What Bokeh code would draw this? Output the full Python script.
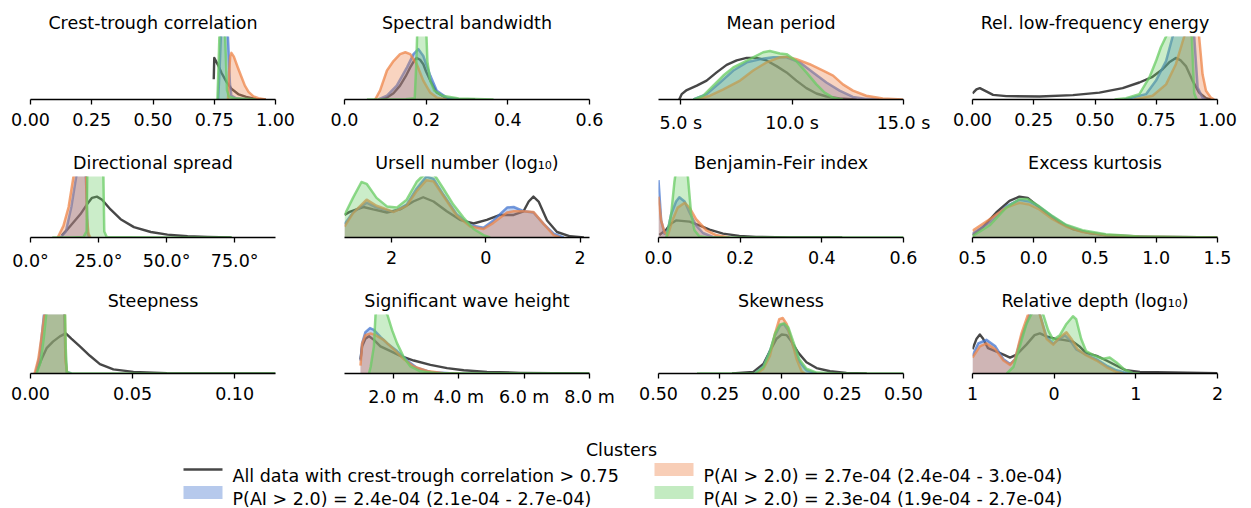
from bokeh.plotting import figure
from bokeh.layouts import column, row
from bokeh.models import Range1d, FixedTicker
from bokeh.core.properties import value
from bokeh.embed import file_html
from bokeh.resources import INLINE

# ---------------- data (x in data units, y = density scaled to panel height) ----------------
titles = ["Crest-trough correlation", "Spectral bandwidth", "Mean period", "Rel. low-frequency energy",
          "Directional spread", "Ursell number (log\u2081\u2080)", "Benjamin-Feir index", "Excess kurtosis",
          "Steepness", "Significant wave height", "Skewness", "Relative depth (log\u2081\u2080)"]

x_ranges = [(0.0, 1.0), (0.0, 0.6), (4.0, 15.0), (0.0, 1.0),
            (0.0, 90.0), (-3.0, 2.2), (0.0, 0.6), (-0.5, 1.5),
            (0.0, 0.12), (0.5, 8.0), (-0.5, 0.5), (-1.0, 2.0)]

tick_values = [[0.0, 0.25, 0.5, 0.75, 1.0], [0.0, 0.2, 0.4, 0.6], [5.0, 10.0, 15.0], [0.0, 0.25, 0.5, 0.75, 1.0],
               [0.0, 25.0, 50.0, 75.0], [-2.0, 0.0, 2.0], [0.0, 0.2, 0.4, 0.6], [-0.5, 0.0, 0.5, 1.0, 1.5],
               [0.0, 0.05, 0.1], [2.0, 4.0, 6.0, 8.0], [-0.5, -0.25, 0.0, 0.25, 0.5], [-1.0, 0.0, 1.0, 2.0]]
tick_labels = [["0.00", "0.25", "0.50", "0.75", "1.00"], ["0.0", "0.2", "0.4", "0.6"],
               ["5.0 s", "10.0 s", "15.0 s"], ["0.00", "0.25", "0.50", "0.75", "1.00"],
               ["0.0\u00b0", "25.0\u00b0", "50.0\u00b0", "75.0\u00b0"], ["2", "0", "2"],
               ["0.0", "0.2", "0.4", "0.6"], ["0.5", "0.0", "0.5", "1.0", "1.5"],
               ["0.00", "0.05", "0.10"], ["2.0 m", "4.0 m", "6.0 m", "8.0 m"],
               ["0.50", "0.25", "0.00", "0.25", "0.50"], ["1", "0", "1", "2"]]

# Crest-trough correlation
ct_all_x = [0.748, 0.750, 0.765, 0.78, 0.80, 0.82, 0.85, 0.88, 0.92, 0.96]
ct_all_y = [0.32, 0.66, 0.55, 0.42, 0.28, 0.17, 0.08, 0.04, 0.01, 0.0]
ct_b_x = [0.766, 0.772, 0.780, 0.790, 0.800, 0.808, 0.814, 0.820, 0.84, 0.88]
ct_b_y = [0.0, 0.5, 1.3, 1.7, 1.5, 0.8, 0.25, 0.06, 0.02, 0.0]
ct_o_x = [0.806, 0.810, 0.815, 0.820, 0.83, 0.845, 0.86, 0.875, 0.89, 0.91, 0.93, 0.96]
ct_o_y = [0.0, 0.4, 0.68, 0.74, 0.68, 0.52, 0.37, 0.22, 0.12, 0.05, 0.02, 0.0]
ct_g_x = [0.763, 0.768, 0.774, 0.782, 0.790, 0.797, 0.802, 0.81, 0.83, 0.87, 0.92]
ct_g_y = [0.0, 0.6, 1.4, 1.8, 1.5, 0.7, 0.15, 0.05, 0.02, 0.01, 0.0]

# Spectral bandwidth
sb_all_x = [0.09, 0.104, 0.12, 0.136, 0.15, 0.161, 0.170, 0.177, 0.185, 0.193, 0.20, 0.21, 0.226, 0.25, 0.28, 0.32]
sb_all_y = [0.0, 0.03, 0.10, 0.22, 0.37, 0.51, 0.61, 0.66, 0.63, 0.56, 0.44, 0.30, 0.11, 0.02, 0.005, 0.0]
sb_b_x = [0.083, 0.104, 0.128, 0.153, 0.169, 0.181, 0.193, 0.21, 0.226, 0.25, 0.283]
sb_b_y = [0.0, 0.06, 0.22, 0.51, 0.72, 0.80, 0.69, 0.38, 0.14, 0.03, 0.0]
sb_o_x = [0.075, 0.087, 0.104, 0.12, 0.136, 0.149, 0.161, 0.177, 0.193, 0.21, 0.226, 0.25]
sb_o_y = [0.0, 0.14, 0.46, 0.61, 0.72, 0.75, 0.72, 0.56, 0.30, 0.11, 0.03, 0.0]
sb_g_x = [0.055, 0.15, 0.172, 0.176, 0.180, 0.19, 0.198, 0.203, 0.21, 0.22, 0.24, 0.28, 0.365]
sb_g_y = [0.0, 0.005, 0.02, 0.6, 1.5, 2.0, 1.5, 0.6, 0.3, 0.14, 0.06, 0.016, 0.0]

# Mean period
mp_all_x = [4.93, 5.04, 5.27, 5.72, 6.16, 6.61, 7.06, 7.51, 7.96, 8.40, 8.85, 9.30, 9.75, 10.19, 10.64, 11.09, 11.54, 12.13, 12.9]
mp_all_y = [0.0, 0.085, 0.15, 0.22, 0.30, 0.43, 0.55, 0.62, 0.66, 0.66, 0.62, 0.53, 0.43, 0.30, 0.18, 0.095, 0.048, 0.016, 0.0]
mp_b_x = [5.57, 6.16, 6.76, 7.36, 7.96, 8.55, 9.15, 9.75, 10.34, 10.94, 11.54, 12.13, 12.73, 13.33, 13.9]
mp_b_y = [0.0, 0.085, 0.27, 0.46, 0.59, 0.64, 0.67, 0.67, 0.59, 0.43, 0.27, 0.14, 0.04, 0.01, 0.0]
mp_o_x = [5.72, 6.31, 6.91, 7.66, 8.25, 8.85, 9.45, 9.75, 10.19, 10.79, 11.39, 11.84, 12.28, 12.73, 13.33, 14.07, 14.97]
mp_o_y = [0.0, 0.06, 0.16, 0.30, 0.46, 0.59, 0.67, 0.68, 0.64, 0.56, 0.46, 0.38, 0.24, 0.14, 0.06, 0.016, 0.0]
mp_g_x = [5.57, 6.01, 6.46, 6.91, 7.36, 7.81, 8.25, 8.70, 9.00, 9.45, 9.75, 10.19, 10.64, 11.09, 11.46, 11.84, 12.28]
mp_g_y = [0.0, 0.06, 0.22, 0.38, 0.51, 0.59, 0.67, 0.75, 0.77, 0.73, 0.72, 0.61, 0.43, 0.24, 0.11, 0.03, 0.0]

# Rel. low-frequency energy
lf_all_x = [0.0, 0.016, 0.03, 0.05, 0.084, 0.138, 0.274, 0.41, 0.518, 0.613, 0.681, 0.735, 0.776, 0.803, 0.83, 0.85, 0.871, 0.898, 0.925, 0.953, 0.973]
lf_all_y = [0.095, 0.16, 0.18, 0.14, 0.074, 0.053, 0.048, 0.069, 0.11, 0.18, 0.27, 0.36, 0.48, 0.59, 0.66, 0.62, 0.53, 0.30, 0.11, 0.02, 0.0]
lf_b_x = [0.62, 0.708, 0.749, 0.79, 0.817, 0.86, 0.905, 0.919, 0.939, 0.953]
lf_b_y = [0.0, 0.085, 0.30, 0.61, 1.0, 1.6, 1.0, 0.19, 0.03, 0.0]
lf_o_x = [0.66, 0.735, 0.79, 0.83, 0.864, 0.895, 0.925, 0.939, 0.953, 0.973, 0.986]
lf_o_y = [0.0, 0.06, 0.24, 0.56, 1.0, 1.5, 1.0, 0.40, 0.14, 0.03, 0.0]
lf_g_x = [0.58, 0.627, 0.681, 0.722, 0.749, 0.769, 0.79, 0.84, 0.895, 0.905, 0.915]
lf_g_y = [0.0, 0.02, 0.085, 0.35, 0.61, 0.83, 1.0, 1.6, 1.0, 0.1, 0.0]

# Directional spread
ds_all_x = [11.5, 13.3, 15.8, 18.3, 20.7, 22.6, 24.4, 26.3, 29.4, 33.1, 38.0, 44.2, 50.3, 57.7, 65.1, 73.8]
ds_all_y = [0.037, 0.12, 0.25, 0.38, 0.54, 0.65, 0.67, 0.62, 0.46, 0.30, 0.17, 0.09, 0.048, 0.02, 0.01, 0.0]
ds_b_x = [11.0, 13.0, 15.0, 16.8, 18.0, 19.5, 20.5, 21.0, 21.5]
ds_b_y = [0.0, 0.1, 0.5, 1.0, 2.2, 2.0, 0.8, 0.1, 0.0]
ds_o_x = [10.0, 12.1, 14.0, 15.8, 17.5, 19.0, 20.3, 20.8, 21.3, 22.0]
ds_o_y = [0.0, 0.19, 0.5, 1.0, 1.9, 2.0, 1.3, 0.3, 0.06, 0.0]
ds_g_x = [8.0, 15.0, 19.5, 20.6, 21.0, 22.0, 24.0, 26.0, 26.6, 27.1, 28.0, 35.0, 50.0, 74.0]
ds_g_y = [0.0, 0.002, 0.01, 0.1, 1.5, 2.2, 2.4, 2.2, 1.5, 0.1, 0.01, 0.004, 0.002, 0.0]

# Ursell number (log10)
ur_all_x = [-3.0, -2.89, -2.6, -2.39, -2.1, -1.82, -1.54, -1.33, -1.11, -0.83, -0.55, -0.26, 0.02, 0.30, 0.59, 0.80, 0.91, 1.01, 1.12, 1.30, 1.51, 1.79, 2.08]
ur_all_y = [0.37, 0.42, 0.50, 0.46, 0.41, 0.46, 0.59, 0.66, 0.59, 0.43, 0.29, 0.23, 0.29, 0.37, 0.37, 0.43, 0.59, 0.67, 0.59, 0.28, 0.09, 0.02, 0.0]
ur_b_x = [-3.0, -2.82, -2.53, -2.32, -1.96, -1.68, -1.47, -1.26, -1.11, -0.9, -0.62, -0.33, -0.05, 0.16, 0.45, 0.59, 0.80, 1.01, 1.23, 1.44, 1.65]
ur_b_y = [0.22, 0.41, 0.57, 0.49, 0.42, 0.54, 0.80, 1.0, 0.96, 0.70, 0.38, 0.20, 0.16, 0.28, 0.49, 0.50, 0.43, 0.41, 0.22, 0.063, 0.0]
ur_o_x = [-3.0, -2.82, -2.53, -2.32, -1.96, -1.68, -1.47, -1.26, -1.11, -0.9, -0.62, -0.33, -0.05, 0.16, 0.45, 0.59, 0.80, 1.01, 1.23, 1.44, 1.58]
ur_o_y = [0.18, 0.40, 0.62, 0.52, 0.42, 0.52, 0.76, 0.94, 0.92, 0.68, 0.36, 0.18, 0.14, 0.24, 0.41, 0.43, 0.43, 0.42, 0.22, 0.04, 0.0]
ur_g_x = [-3.0, -2.82, -2.64, -2.53, -2.32, -2.1, -1.89, -1.68, -1.47, -1.33, -1.11, -0.9, -0.69, -0.48, -0.26, -0.05, 0.09]
ur_g_y = [0.37, 0.65, 0.91, 0.88, 0.65, 0.51, 0.49, 0.62, 0.91, 1.02, 1.05, 0.80, 0.54, 0.33, 0.14, 0.04, 0.0]

# Benjamin-Feir index
bf_all_x = [0.002, 0.019, 0.031, 0.043, 0.076, 0.10, 0.125, 0.158, 0.198, 0.239, 0.32, 0.45]
bf_all_y = [0.04, 0.13, 0.23, 0.28, 0.26, 0.20, 0.13, 0.063, 0.026, 0.01, 0.002, 0.0]
bf_b_x = [0.0, 0.0065, 0.0147, 0.023, 0.031, 0.043, 0.051, 0.064, 0.076, 0.092, 0.109, 0.133, 0.158]
bf_b_y = [0.94, 0.28, 0.06, 0.12, 0.38, 0.59, 0.66, 0.59, 0.41, 0.20, 0.074, 0.01, 0.0]
bf_o_x = [0.0, 0.0065, 0.0147, 0.023, 0.035, 0.047, 0.064, 0.076, 0.092, 0.117, 0.141, 0.174]
bf_o_y = [0.67, 0.28, 0.09, 0.04, 0.30, 0.49, 0.57, 0.49, 0.30, 0.12, 0.04, 0.0]
bf_g_x = [0.019, 0.031, 0.039, 0.047, 0.057, 0.068, 0.08, 0.088, 0.10, 0.117, 0.3, 0.6]
bf_g_y = [0.0, 0.38, 0.91, 1.3, 1.5, 1.3, 0.38, 0.12, 0.02, 0.003, 0.001, 0.0]

# Excess kurtosis
ek_all_x = [-0.5, -0.415, -0.306, -0.198, -0.117, -0.049, 0.019, 0.10, 0.209, 0.317, 0.453, 0.588, 0.778, 0.995, 1.5]
ek_all_y = [0.04, 0.17, 0.41, 0.60, 0.67, 0.65, 0.54, 0.41, 0.25, 0.14, 0.074, 0.037, 0.016, 0.005, 0.0]
ek_b_x = [-0.5, -0.36, -0.225, -0.117, -0.035, 0.046, 0.154, 0.263, 0.398, 0.588, 0.859, 1.5]
ek_b_y = [0.063, 0.25, 0.51, 0.62, 0.59, 0.50, 0.34, 0.20, 0.10, 0.042, 0.016, 0.0]
ek_o_x = [-0.5, -0.36, -0.225, -0.117, -0.035, 0.046, 0.154, 0.263, 0.398, 0.588, 0.859, 1.5]
ek_o_y = [0.11, 0.30, 0.49, 0.57, 0.54, 0.46, 0.30, 0.18, 0.09, 0.042, 0.016, 0.0]
ek_g_x = [-0.5, -0.36, -0.225, -0.117, -0.049, 0.046, 0.154, 0.263, 0.398, 0.588, 0.859, 1.5]
ek_g_y = [0.02, 0.20, 0.49, 0.63, 0.63, 0.51, 0.35, 0.21, 0.12, 0.053, 0.016, 0.0]

# Steepness
st_all_x = [0.003, 0.0054, 0.0079, 0.011, 0.0144, 0.0173, 0.020, 0.0242, 0.0291, 0.034, 0.0406, 0.0504, 0.0668, 0.12]
st_all_y = [0.03, 0.24, 0.43, 0.54, 0.63, 0.68, 0.59, 0.46, 0.30, 0.16, 0.07, 0.027, 0.005, 0.0]
st_b_x = [0.0025, 0.0045, 0.006, 0.0075, 0.010, 0.013, 0.016, 0.0171, 0.0178, 0.02]
st_b_y = [0.0, 0.3, 0.8, 1.3, 1.9, 2.1, 1.7, 0.3, 0.02, 0.0]
st_o_x = [0.002, 0.0038, 0.0054, 0.007, 0.010, 0.014, 0.0165, 0.0172, 0.018]
st_o_y = [0.0, 0.24, 0.62, 1.05, 1.8, 2.0, 1.6, 0.2, 0.0]
st_g_x = [0.003, 0.005, 0.0065, 0.008, 0.011, 0.014, 0.0165, 0.0173, 0.0178, 0.02, 0.06, 0.12]
st_g_y = [0.0, 0.2, 0.6, 1.1, 2.0, 2.2, 1.8, 0.4, 0.02, 0.005, 0.002, 0.0]

# Significant wave height
hs_all_x = [0.99, 1.04, 1.14, 1.25, 1.40, 1.60, 1.91, 2.21, 2.62, 3.13, 3.64, 4.15, 4.86, 5.88, 6.90, 8.0]
hs_all_y = [0.24, 0.46, 0.59, 0.63, 0.57, 0.46, 0.38, 0.30, 0.22, 0.146, 0.092, 0.054, 0.027, 0.011, 0.005, 0.0]
hs_b_x = [0.99, 1.04, 1.14, 1.28, 1.40, 1.60, 1.81, 2.11, 2.42, 2.72, 3.13, 3.84]
hs_b_y = [0.22, 0.51, 0.70, 0.77, 0.74, 0.62, 0.51, 0.38, 0.22, 0.092, 0.027, 0.0]
hs_o_x = [0.99, 1.04, 1.14, 1.30, 1.45, 1.70, 2.01, 2.32, 2.62, 3.03, 3.54, 4.05]
hs_o_y = [0.135, 0.51, 0.65, 0.68, 0.65, 0.57, 0.41, 0.24, 0.12, 0.043, 0.005, 0.0]
hs_g_x = [1.25, 1.30, 1.40, 1.45, 1.60, 1.81, 1.96, 2.11, 2.32, 2.52, 2.82, 3.33, 8.0]
hs_g_y = [0.0, 0.11, 0.46, 1.0, 1.15, 1.0, 0.73, 0.51, 0.27, 0.12, 0.038, 0.005, 0.0]

# Skewness
sk_all_x = [-0.2, -0.113, -0.072, -0.045, -0.018, 0.003, 0.023, 0.043, 0.071, 0.104, 0.145, 0.20, 0.267, 0.35]
sk_all_y = [0.0, 0.027, 0.16, 0.38, 0.59, 0.66, 0.65, 0.54, 0.35, 0.19, 0.092, 0.038, 0.011, 0.0]
sk_b_x = [-0.106, -0.072, -0.045, -0.024, -0.004, 0.012, 0.03, 0.05, 0.077, 0.104, 0.145]
sk_b_y = [0.0, 0.12, 0.38, 0.65, 0.81, 0.84, 0.73, 0.46, 0.19, 0.054, 0.0]
sk_o_x = [-0.099, -0.072, -0.045, -0.024, -0.007, 0.007, 0.023, 0.043, 0.064, 0.084, 0.098]
sk_o_y = [0.0, 0.08, 0.30, 0.68, 0.92, 0.94, 0.84, 0.57, 0.24, 0.038, 0.0]
sk_g_x = [-0.343, -0.106, -0.072, -0.045, -0.024, -0.004, 0.012, 0.03, 0.05, 0.075, 0.104, 0.145, 0.24, 0.5]
sk_g_y = [0.0, 0.005, 0.11, 0.38, 0.68, 0.83, 0.85, 0.78, 0.54, 0.24, 0.08, 0.016, 0.0, 0.0]

# Relative depth (log10)
rd_all_x = [-1.0, -0.95, -0.91, -0.87, -0.81, -0.72, -0.62, -0.54, -0.46, -0.34, -0.24, -0.175, -0.094, 0.008, 0.11, 0.23, 0.31, 0.39, 0.52, 0.64, 0.76, 0.88, 1.05, 1.45, 2.0]
rd_all_y = [0.41, 0.59, 0.66, 0.59, 0.43, 0.38, 0.32, 0.27, 0.32, 0.49, 0.65, 0.68, 0.63, 0.59, 0.57, 0.54, 0.46, 0.35, 0.30, 0.22, 0.135, 0.054, 0.027, 0.016, 0.005]
rd_b_x = [-1.0, -0.93, -0.83, -0.72, -0.62, -0.54, -0.48, -0.40, -0.30, -0.24, -0.175, -0.094, -0.012, 0.07, 0.13, 0.19, 0.27, 0.39, 0.52, 0.64, 0.76, 0.88, 0.96]
rd_b_y = [0.30, 0.51, 0.57, 0.46, 0.24, 0.16, 0.24, 0.62, 1.0, 1.3, 1.0, 0.62, 0.51, 0.59, 0.65, 0.57, 0.41, 0.32, 0.24, 0.135, 0.054, 0.01, 0.0]
rd_o_x = [-1.0, -0.91, -0.83, -0.72, -0.62, -0.54, -0.48, -0.40, -0.32, -0.25, -0.175, -0.094, -0.012, 0.07, 0.15, 0.21, 0.29, 0.39, 0.52, 0.64, 0.76, 0.84]
rd_o_y = [0.27, 0.46, 0.51, 0.41, 0.22, 0.146, 0.24, 0.68, 1.0, 1.3, 1.0, 0.59, 0.49, 0.62, 0.70, 0.59, 0.41, 0.31, 0.22, 0.11, 0.027, 0.0]
rd_g_x = [-0.58, -0.50, -0.42, -0.34, -0.28, -0.21, -0.134, -0.073, -0.012, 0.07, 0.15, 0.23, 0.27, 0.33, 0.39, 0.50, 0.60, 0.68, 0.76, 0.86, 0.96, 1.05]
rd_g_y = [0.0, 0.11, 0.46, 0.84, 1.0, 1.3, 1.0, 0.73, 0.57, 0.65, 0.84, 0.97, 0.92, 0.59, 0.38, 0.30, 0.25, 0.27, 0.19, 0.07, 0.01, 0.0]

legend_title = "Clusters"
legend_labels = ["All data with crest-trough correlation > 0.75",
                 "P(AI > 2.0) = 2.4e-04 (2.1e-04 - 2.7e-04)",
                 "P(AI > 2.0) = 2.7e-04 (2.4e-04 - 3.0e-04)",
                 "P(AI > 2.0) = 2.3e-04 (1.9e-04 - 2.7e-04)"]

# ---------------- styling ----------------
ALL_COLOR = "#333333"
CLUSTER_COLORS = ["#4878d0", "#ee854a", "#6acc64"]
FONT = "DejaVu Sans"
FS = "17.5px"

panels = [
    (ct_all_x, ct_all_y, [(ct_b_x, ct_b_y), (ct_o_x, ct_o_y), (ct_g_x, ct_g_y)]),
    (sb_all_x, sb_all_y, [(sb_b_x, sb_b_y), (sb_o_x, sb_o_y), (sb_g_x, sb_g_y)]),
    (mp_all_x, mp_all_y, [(mp_b_x, mp_b_y), (mp_o_x, mp_o_y), (mp_g_x, mp_g_y)]),
    (lf_all_x, lf_all_y, [(lf_b_x, lf_b_y), (lf_o_x, lf_o_y), (lf_g_x, lf_g_y)]),
    (ds_all_x, ds_all_y, [(ds_b_x, ds_b_y), (ds_o_x, ds_o_y), (ds_g_x, ds_g_y)]),
    (ur_all_x, ur_all_y, [(ur_b_x, ur_b_y), (ur_o_x, ur_o_y), (ur_g_x, ur_g_y)]),
    (bf_all_x, bf_all_y, [(bf_b_x, bf_b_y), (bf_o_x, bf_o_y), (bf_g_x, bf_g_y)]),
    (ek_all_x, ek_all_y, [(ek_b_x, ek_b_y), (ek_o_x, ek_o_y), (ek_g_x, ek_g_y)]),
    (st_all_x, st_all_y, [(st_b_x, st_b_y), (st_o_x, st_o_y), (st_g_x, st_g_y)]),
    (hs_all_x, hs_all_y, [(hs_b_x, hs_b_y), (hs_o_x, hs_o_y), (hs_g_x, hs_g_y)]),
    (sk_all_x, sk_all_y, [(sk_b_x, sk_b_y), (sk_o_x, sk_o_y), (sk_g_x, sk_g_y)]),
    (rd_all_x, rd_all_y, [(rd_b_x, rd_b_y), (rd_o_x, rd_o_y), (rd_g_x, rd_g_y)]),
]

FRAME_W, FRAME_H = 245, 63
COL_W = [322, 314, 314, 287]
LEFT_B = [30, 22, 22, 22]
ROW_H = [146, 138, 125]
TOP_B = [36, 28, 28]


def make_panel(i):
    r, c = divmod(i, 4)
    w, h = COL_W[c], ROW_H[r]
    lb, tb = LEFT_B[c], TOP_B[r]
    p = figure(width=w, height=h, x_range=Range1d(*x_ranges[i]), y_range=Range1d(0, 1),
               output_backend="svg", toolbar_location=None, y_axis_location=None,
               min_border_left=lb, min_border_right=w - lb - FRAME_W,
               min_border_top=tb, min_border_bottom=h - tb - FRAME_H)
    p.outline_line_color = None
    p.xgrid.visible = False
    p.ygrid.visible = False
    p.background_fill_color = "white"
    p.border_fill_color = "white"
    p.title.text = titles[i]
    p.title.align = "center"
    p.title.text_font = FONT
    p.title.text_font_size = FS
    p.title.text_font_style = "normal"
    p.title.text_color = "black"
    p.title.standoff = 8

    ax = p.xaxis[0]
    ax.ticker = FixedTicker(ticks=tick_values[i], minor_ticks=[])
    ax.major_label_overrides = {float(t): l for t, l in zip(tick_values[i], tick_labels[i])}
    ax.major_label_text_font = FONT
    ax.major_label_text_font_size = FS
    ax.major_label_text_color = "black"
    ax.major_label_standoff = 8
    ax.axis_line_color = "black"
    ax.axis_line_width = 1.3
    ax.major_tick_line_color = "black"
    ax.major_tick_line_width = 1.3
    ax.major_tick_out = 5
    ax.major_tick_in = 0
    ax.minor_tick_out = 0
    ax.minor_tick_in = 0

    ax_x, ax_y, clusters = panels[i]
    p.line(ax_x, ax_y, line_color=ALL_COLOR, line_alpha=0.9, line_width=2.4, line_join="round")
    for (cx, cy), col in zip(clusters, CLUSTER_COLORS):
        p.varea(x=cx, y1=[0.0] * len(cx), y2=cy, fill_color=col, fill_alpha=0.35)
        p.line(cx, cy, line_color=col, line_alpha=0.75, line_width=2.5, line_join="round")
    return p


figs = [make_panel(i) for i in range(12)]

# ---------------- legend (own canvas, page-like pixel coordinates) ----------------
LW = sum(COL_W)
LY0 = sum(ROW_H)          # top of legend canvas in page pixels
LH = 508 - LY0
lg = figure(width=LW, height=LH, x_range=Range1d(0, LW), y_range=Range1d(LY0 + LH, LY0),
            output_backend="svg", toolbar_location=None, x_axis_location=None,
            y_axis_location=None, min_border=0, title=None)
lg.outline_line_color = None
lg.xgrid.visible = False
lg.ygrid.visible = False

col_x = [183, 654]
row_base = [475, 498]
handle_w, text_gap = 39, 10
lg.text(x=[621], y=[449], text=[legend_title], text_font=value(FONT), text_font_size=FS,
        text_align="center", text_baseline="alphabetic", text_color="black")
slots = [(0, 0), (0, 1), (1, 0), (1, 1)]
for k, (cc, rr) in enumerate(slots):
    x0 = col_x[cc]
    yb = row_base[rr]
    yc = yb - 6
    if k == 0:
        lg.line([x0, x0 + handle_w], [yc, yc], line_color=ALL_COLOR, line_alpha=0.9, line_width=2.4)
    else:
        lg.rect(x=[x0 + handle_w / 2], y=[yc], width=handle_w, height=13,
                fill_color=CLUSTER_COLORS[k - 1], fill_alpha=0.4, line_color=None)
    lg.text(x=[x0 + handle_w + text_gap], y=[yb], text=[legend_labels[k]], text_font=value(FONT),
            text_font_size=FS, text_align="left", text_baseline="alphabetic", text_color="black")

layout = column(row(*figs[0:4]), row(*figs[4:8]), row(*figs[8:12]), lg)

open("out.html", "w").write(file_html(layout, INLINE))
